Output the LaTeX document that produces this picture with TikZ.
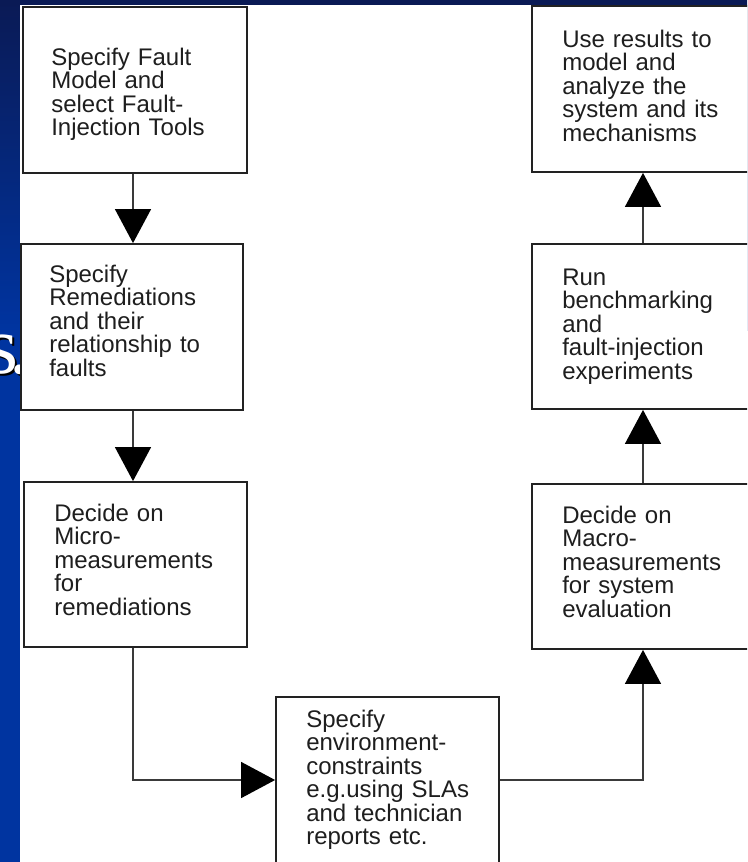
\documentclass[tikz,border=0pt]{standalone}
\usepackage{fontspec}
\setmainfont{Liberation Sans}
\newfontfamily\slideserif{Liberation Serif}
\usetikzlibrary{arrows.meta}

\definecolor{slidenavy}{HTML}{0A1A55}
\definecolor{slideblue}{HTML}{0034A0}
\definecolor{framegray}{HTML}{222222}
\definecolor{linegray}{HTML}{3A3A3A}
\definecolor{inkgray}{HTML}{1E1E1E}

\begin{document}
\begin{tikzpicture}[x=1pt,y=-1pt,
  stepbox/.style={draw=framegray, line width=1.8pt, fill=white, inner sep=0pt},
  boxtext/.style={anchor=base west, inner sep=0pt, align=left, text width=215pt,
    text=inkgray, font=\fontsize{24}{23.5}\selectfont},
  flow/.style={draw=linegray, line width=1.3pt,
    -{Triangle[length=34pt,width=36pt,color=black]}},
  slidetext/.style={anchor=base west, inner sep=0pt,
    font=\slideserif\fontsize{82}{82}\selectfont}
]
\useasboundingbox (0,0) rectangle (747,862);
\clip (0,0) rectangle (747,862);

% slide background behind the figure
\fill[slideblue] (0,0) rectangle (747,862);
\shade[top color=slidenavy, bottom color=slideblue] (0,0) rectangle (747,330);
\fill[slidenavy] (0,0) rectangle (747,6);
\node[slidetext, text=black] (tailshadow) at (-11.5,375) {s\kern-9pt.};
\node[slidetext, text=white] (tail) at (-13.5,373) {s\kern-9pt.};

% white figure area
\fill[white] (20,5) rectangle (747,862);

% left column
\node[stepbox, minimum width=224pt, minimum height=166pt] (b1) at (135,90) {};
\node[stepbox, minimum width=222pt, minimum height=166pt] (b2) at (132,327) {};
\node[stepbox, minimum width=223pt, minimum height=165pt] (b3) at (135.5,564.5) {};
% bottom box
\node[stepbox, minimum width=223pt, minimum height=166pt] (b4) at (387.5,780) {};
% right column
\node[stepbox, minimum width=222pt, minimum height=165pt] (b5) at (643,566.5) {};
\node[stepbox, minimum width=222pt, minimum height=165pt] (b6) at (643,326.5) {};
\node[stepbox, minimum width=222pt, minimum height=166pt] (b7) at (643,89) {};

\node[boxtext] (t1) at ([shift={(29,59)}]b1.north west)
  {Specify Fault\\Model and\\select Fault-\\Injection Tools};
\node[boxtext] (t2) at ([shift={(29,39)}]b2.north west)
  {Specify\\Remediations\\and their\\relationship to\\faults};
\node[boxtext] (t3) at ([shift={(31,40)}]b3.north west)
  {Decide on\\Micro-\\measurements\\for\\remediations};
\node[boxtext] (t4) at ([shift={(31,31)}]b4.north west)
  {Specify\\environment-\\constraints\\e.g.using SLAs\\and technician\\reports etc.};
\node[boxtext] (t5) at ([shift={(31,40)}]b5.north west)
  {Decide on\\Macro-\\measurements\\for system\\evaluation};
\node[boxtext] (t6) at ([shift={(31,42)}]b6.north west)
  {Run\\benchmarking\\and\\fault-injection\\experiments};
\node[boxtext] (t7) at ([shift={(31,42)}]b7.north west)
  {Use results to\\model and\\analyze the\\system and its\\mechanisms};

% connectors
\coordinate (lx) at (133,0);
\draw[flow] (b1.south -| lx) -- (b2.north -| lx);
\draw[flow] (b2.south -| lx) -- (b3.north -| lx);
\draw[flow] (b3.south -| lx) |- (b4.west);
\draw[flow] (b4.east) -| (b5.south);
\draw[flow] (b5.north) -- (b6.south);
\draw[flow] (b6.north) -- (b7.south);
\end{tikzpicture}
\end{document}
